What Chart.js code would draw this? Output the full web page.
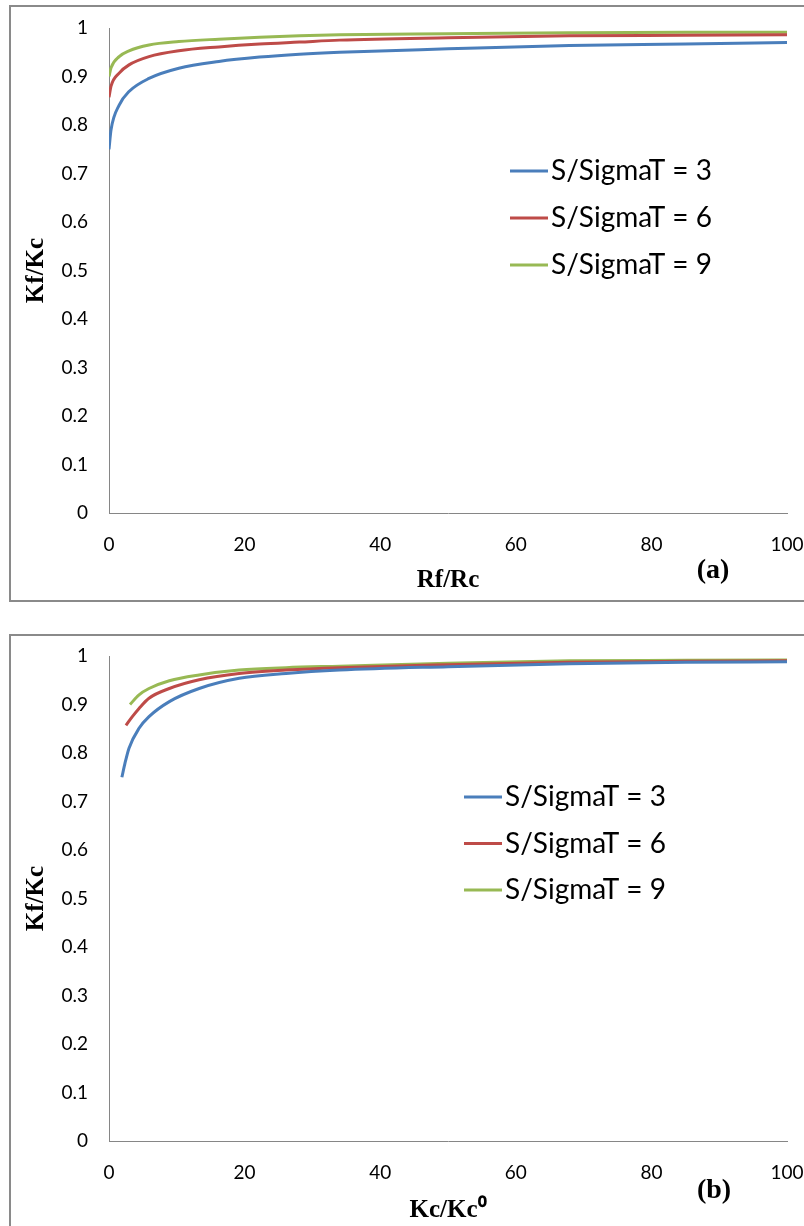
<!DOCTYPE html>
<html lang="en">
<head>
    <meta charset="UTF-8">
    <title>Kf/Kc</title>
    <script src="https://cdn.jsdelivr.net/npm/chart.js"></script>
    <style>
        body {
            margin: 0;
            width: 804px;
            height: 1226px;
            overflow: hidden;
            background: #fff;
            position: relative;
        }
        .frame {
            position: absolute;
            left: 9px;
            width: 820px;
            box-sizing: border-box;
            border: 2px solid #8a8a8a;
        }
        canvas {
            position: absolute;
            left: 11px;
        }
    </style>
</head>
<body>
    <div class="frame" style="top:5px; height:597px;"></div>
    <div class="frame" style="top:634px; height:700px;"></div>
    <canvas id="chartA" width="795" height="591" style="top:8px;"></canvas>
    <canvas id="chartB" width="795" height="589" style="top:637px;"></canvas>

    <script>
        const seriesLabels = ['S/SigmaT = 3', 'S/SigmaT = 6', 'S/SigmaT = 9'];
        const seriesColors = ['#4a7ebb', '#be4b48', '#98b954'];

        const yTicks = [0, 0.1, 0.2, 0.3, 0.4, 0.5, 0.6, 0.7, 0.8, 0.9, 1];
        const yTickLabels = ['0', '0.1', '0.2', '0.3', '0.4', '0.5', '0.6', '0.7', '0.8', '0.9', '1'];
        const xTicks = [0, 20, 40, 60, 80, 100];

        // (a) Kf/Kc vs Rf/Rc
        const rfRc = [0, 0.3, 1.5, 2.95, 5.9, 10.3, 16.2, 22.2, 28.1, 34, 50, 67.9, 85, 100];
        const a3 = [0.750, 0.790, 0.841, 0.869, 0.896, 0.917, 0.931, 0.940, 0.946, 0.950, 0.957, 0.964, 0.967, 0.970];
        const a6 = [0.857, 0.880, 0.907, 0.924, 0.941, 0.953, 0.961, 0.967, 0.971, 0.975, 0.980, 0.984, 0.985, 0.986];
        const a9 = [0.900, 0.918, 0.941, 0.953, 0.965, 0.972, 0.977, 0.981, 0.984, 0.986, 0.988, 0.990, 0.991, 0.991];

        // (b) Kf/Kc vs Kc/Kc0
        const b3x = [1.9, 2.36, 2.95, 4.43, 5.9, 8.9, 13.3, 19.2, 26.1, 34, 50, 67.9, 85, 100];
        const b3 = [0.750, 0.779, 0.810, 0.851, 0.875, 0.906, 0.933, 0.954, 0.964, 0.971, 0.978, 0.984, 0.987, 0.988];
        const b6x = [2.5, 3.44, 4.43, 5.9, 8.9, 13.3, 19.2, 26.1, 34, 50, 67.9, 85, 100];
        const b6 = [0.857, 0.875, 0.892, 0.913, 0.933, 0.951, 0.964, 0.971, 0.976, 0.982, 0.987, 0.989, 0.990];
        const b9x = [3.1, 4.43, 5.9, 8.9, 13.3, 19.2, 26.1, 34, 50, 67.9, 85, 100];
        const b9 = [0.900, 0.920, 0.933, 0.949, 0.961, 0.971, 0.976, 0.979, 0.985, 0.990, 0.991, 0.992];

        // legend + panel letter drawn inside the plot
        const overlayPlugin = {
            id: 'overlay',
            afterDraw(chart, args, opts) {
                const ctx = chart.ctx;
                ctx.save();
                ctx.textBaseline = 'middle';
                chart.data.datasets.forEach((ds, i) => {
                    const y = opts.legendY + i * opts.legendGap;
                    ctx.strokeStyle = ds.borderColor;
                    ctx.lineWidth = 3;
                    ctx.beginPath();
                    ctx.moveTo(opts.legendX, y);
                    ctx.lineTo(opts.legendX + 38, y);
                    ctx.stroke();
                    ctx.fillStyle = '#000';
                    ctx.font = '28px Lato';
                    ctx.textAlign = 'left';
                    ctx.fillText(ds.label, opts.legendX + 41, y);
                });
                ctx.font = 'bold 28px "Liberation Serif"';
                ctx.textAlign = 'center';
                ctx.fillStyle = '#000';
                ctx.fillText(opts.panel, opts.panelX, opts.panelY);
                ctx.restore();
            }
        };

        function makeChart(id, xs, ys, xTitle, xTitlePad, padTop, overlay) {
            const datasets = ys.map((vals, i) => ({
                label: seriesLabels[i],
                data: vals.map((v, j) => ({ x: xs[i][j], y: v })),
                borderColor: seriesColors[i],
                borderWidth: 3,
                pointRadius: 0,
                fill: false,
                cubicInterpolationMode: 'monotone'
            }));
            const canvas = document.getElementById(id);
            const bottomAxis = canvas.height - 505 + (padTop === 20 ? 0 : 1);
            return new Chart(canvas.getContext('2d'), {
                type: 'line',
                data: { datasets: datasets },
                plugins: [overlayPlugin],
                options: {
                    responsive: false,
                    animation: false,
                    devicePixelRatio: 1,
                    layout: { padding: { left: 0, top: padTop, right: 19, bottom: 0 } },
                    plugins: {
                        legend: { display: false },
                        tooltip: { enabled: false },
                        overlay: overlay
                    },
                    scales: {
                        x: {
                            type: 'linear',
                            min: 0,
                            max: 100,
                            afterBuildTicks: s => { s.ticks = xTicks.map(v => ({ value: v })); },
                            afterFit: s => { s.height = bottomAxis; },
                            // grid hidden, tickLength only used to push labels down
                            grid: { display: false, drawTicks: true, tickLength: 20 },
                            border: { display: true, color: '#868686', width: 1 },
                            ticks: {
                                padding: 0,
                                color: '#000',
                                font: { family: 'Lato', size: 19 }
                            },
                            title: {
                                display: true,
                                text: xTitle,
                                color: '#000',
                                font: { family: '"Liberation Serif"', size: 25, weight: 'bold' },
                                padding: { top: 0, bottom: xTitlePad }
                            }
                        },
                        y: {
                            min: 0,
                            max: 1,
                            afterBuildTicks: s => { s.ticks = yTicks.map(v => ({ value: v })); },
                            afterFit: s => { s.width = 98; },
                            grid: { display: false, drawTicks: true, tickLength: 21 },
                            border: { display: true, color: '#868686', width: 1 },
                            ticks: {
                                padding: 0,
                                color: '#000',
                                font: { family: 'Lato', size: 19 },
                                callback: (v, i) => yTickLabels[i]
                            },
                            title: {
                                display: true,
                                text: 'Kf/Kc',
                                color: '#000',
                                font: { family: '"Liberation Serif"', size: 25, weight: 'bold' },
                                padding: { top: 11, bottom: 0 }
                            }
                        }
                    }
                }
            });
        }

        makeChart('chartA', [rfRc, rfRc, rfRc], [a3, a6, a9], 'Rf/Rc', 3, 20,
            { legendX: 499, legendY: 163, legendGap: 47, panel: '(a)', panelX: 702, panelY: 563 });
        makeChart('chartB', [b3x, b6x, b9x], [b3, b6, b9], 'Kc/Kc\u2070', 0, 19,
            { legendX: 453, legendY: 160, legendGap: 46.5, panel: '(b)', panelX: 703, panelY: 554 });
    </script>
</body>
</html>
